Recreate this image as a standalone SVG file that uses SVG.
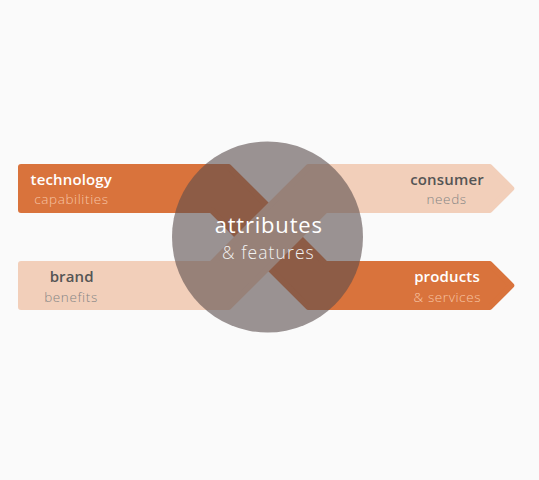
<svg xmlns="http://www.w3.org/2000/svg" width="539" height="480" viewBox="0 0 539 480">
  <style>
    .dark { fill: #d9733c; stroke: #d9733c; stroke-width: 6; stroke-linejoin: round; }
    .light { fill: #f2cfba; stroke: #f2cfba; stroke-width: 6; stroke-linejoin: round; }
    .hub { fill: #5a4d4d; fill-opacity: 0.6; }
    text { font-family: "Open Sans", "Noto Sans", "DejaVu Sans", sans-serif; text-anchor: middle; }
    .title { font-size: 15px; font-weight: 600; letter-spacing: 0.15px; }
    .sub { font-size: 13.5px; font-weight: 300; letter-spacing: 0.6px; }
    .w { fill: #ffffff; }
    .peach { fill: #f7c4a4; }
    .dk { fill: #555555; }
    .gr { fill: #858585; }
  </style>
  <rect width="539" height="480" fill="#fafafa"/>
  <g id="connectors">
    <polygon id="band-technology-products" class="dark" points="21,167 228.76,167 325.76,264 489.76,264 511.26,285.5 489.76,307 308.24,307 211.24,210 21,210"/>
    <polygon id="band-brand-consumer" class="light" points="21,307 228.76,307 325.76,210 489.76,210 511.26,188.5 489.76,167 308.24,167 211.24,264 21,264"/>
  </g>
  <g id="node-technology">
    <text class="title w" x="71.3" y="184.5">technology</text>
    <text class="sub peach" x="71.5" y="203.5">capabilities</text>
  </g>
  <g id="node-brand">
    <text class="title dk" x="71.7" y="282">brand</text>
    <text class="sub gr" x="71" y="302">benefits</text>
  </g>
  <g id="node-consumer">
    <text class="title dk" x="447" y="184.5">consumer</text>
    <text class="sub gr" x="446.6" y="203.5">needs</text>
  </g>
  <g id="node-products">
    <text class="title w" x="447" y="282">products</text>
    <text class="sub peach" x="447.3" y="302">&amp; services</text>
  </g>
  <g id="node-attributes">
    <circle class="hub" cx="267.5" cy="237" r="95.5"/>
    <text x="268.7" y="232.5" font-size="22" letter-spacing="0.8" fill="#ffffff">attributes</text>
    <text x="268.4" y="259.3" font-size="17.5" font-weight="300" letter-spacing="1.1" fill="#f2f2f2">&amp; features</text>
  </g>
</svg>
